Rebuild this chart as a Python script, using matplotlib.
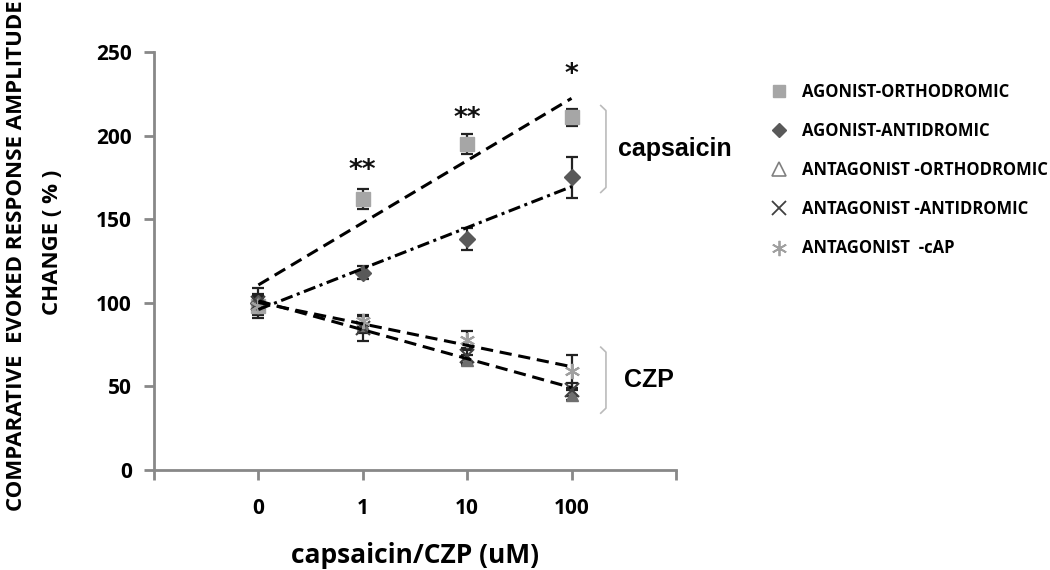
import numpy as np
import matplotlib.pyplot as plt
from matplotlib.lines import Line2D

plt.rcParams['font.family'] = ['Open Sans', 'DejaVu Sans']

# concentrations (category axis) and series
conc_labels = ['0', '1', '10', '100']
pos = np.arange(1, 5)

ago_ortho = [98, 162, 195, 211]
ago_ortho_err = [5, 6, 6, 5]
ago_anti = [100, 118, 138, 175]
ago_anti_err = [4, 4, 6.5, 12.5]

ant_ortho = [100, 87, 66, 45]
ant_ortho_err = [5, 5, 3, 3]
ant_anti = [100, 85, 68, 48]
ant_anti_err = [9, 8, 4, 4]
ant_cap = [98, 89, 78, 59]
ant_cap_err = [4, 3, 5, 10]

stars = ['', '**', '**', '*']
star_level = [0, 179, 210, 236]

fig = plt.figure(figsize=(10.5, 5.7), dpi=100)
ax = fig.add_axes([0.1467, 0.1754, 0.497, 0.7333])

def trend(vals, style):
    k, b = np.polyfit(pos, vals, 1)
    ax.plot(pos, k * pos + b, color='black', lw=2.2, dashes=style, zorder=4)

def series(vals, err, marker, color, ms, mew=1.0):
    ax.errorbar(pos, vals, yerr=err, fmt='none', ecolor='#222222',
                elinewidth=1.6, capsize=4, capthick=1.6, zorder=2)
    ax.plot(pos, vals, ls='none', marker=marker, color=color, ms=ms,
            mew=mew, zorder=3, clip_on=False)

series(ago_ortho, ago_ortho_err, 's', '#a6a6a6', 10)
series(ago_anti, ago_anti_err, 'D', '#595959', 8)
series(ant_ortho, ant_ortho_err, '^', '#6f6f6f', 9)
series(ant_anti, ant_anti_err, 'x', '#404040', 10, 1.5)
series(ant_cap, ant_cap_err, (6, 2, 0), '#a0a0a0', 11, 1.5)

trend(ago_ortho, (4, 2.2))
trend(ago_anti, (4, 1.5, 1, 1.5))
trend(ant_anti, (4, 2.2))
trend(ant_cap, (4, 2.2))

# significance marks
for p, lvl, s in zip(pos, star_level, stars):
    if s:
        ax.text(p, lvl, s, ha='center', va='center', fontsize=19,
                fontweight='bold', family='DejaVu Sans', color='#111111')

# group brackets
bx = [4.28, 4.33, 4.33, 4.28]
ax.plot(bx, [218, 215, 169, 166], color='#bbbbbb', lw=1.2, clip_on=False)
ax.plot(bx, [73.5, 70.5, 37, 34], color='#bbbbbb', lw=1.2, clip_on=False)
ax.text(4.45, 192, 'capsaicin', fontsize=18, fontweight='bold',
        family='Liberation Sans', va='center', ha='left')
ax.text(4.5, 54, 'CZP', fontsize=18, fontweight='bold',
        family='Liberation Sans', va='center', ha='left')

ax.set_xlim(0, 5)
ax.set_ylim(0, 250)
ax.set_xticks(range(6))
ax.set_xticklabels([''] + conc_labels + [''])
ax.set_yticks(range(0, 251, 50))
for lab in ax.get_xticklabels() + ax.get_yticklabels():
    lab.set_fontweight('bold')
    lab.set_fontsize(15)
ax.tick_params(axis='both', colors='#888888', width=2, length=7,
               labelcolor='black')
ax.tick_params(axis='x', pad=13)
ax.tick_params(axis='y', pad=9)
for side in ['top', 'right']:
    ax.spines[side].set_visible(False)
for side in ['left', 'bottom']:
    ax.spines[side].set_color('#888888')
    ax.spines[side].set_linewidth(2)

ax.set_xlabel('capsaicin/CZP (uM)', fontsize=19, fontweight='bold',
              labelpad=17)
fig.text(0.016, 0.552, 'COMPARATIVE  EVOKED RESPONSE AMPLITUDE', rotation=90,
         ha='center', va='center', fontsize=16, fontweight='bold')
fig.text(0.05, 0.575, 'CHANGE ( % )', rotation=90, ha='center', va='center',
         fontsize=16, fontweight='bold')

handles = [
    Line2D([], [], ls='none', marker='s', color='#a6a6a6', ms=9),
    Line2D([], [], ls='none', marker='D', color='#595959', ms=7),
    Line2D([], [], ls='none', marker='^', mfc='white', mec='#808080', ms=10, mew=1.2),
    Line2D([], [], ls='none', marker='x', color='#404040', ms=10, mew=1.3),
    Line2D([], [], ls='none', marker=(6, 2, 0), color='#a0a0a0', ms=11, mew=1.3),
]
labels = ['AGONIST-ORTHODROMIC', 'AGONIST-ANTIDROMIC', 'ANTAGONIST -ORTHODROMIC',
          'ANTAGONIST -ANTIDROMIC', 'ANTAGONIST  -cAP']
leg = fig.legend(handles, labels, loc='upper left', bbox_to_anchor=(0.712, 0.881),
                 frameon=False, labelspacing=1.27, handletextpad=0.35,
                 prop={'weight': 'bold', 'size': 12})

fig.savefig('out.png', dpi=100)
